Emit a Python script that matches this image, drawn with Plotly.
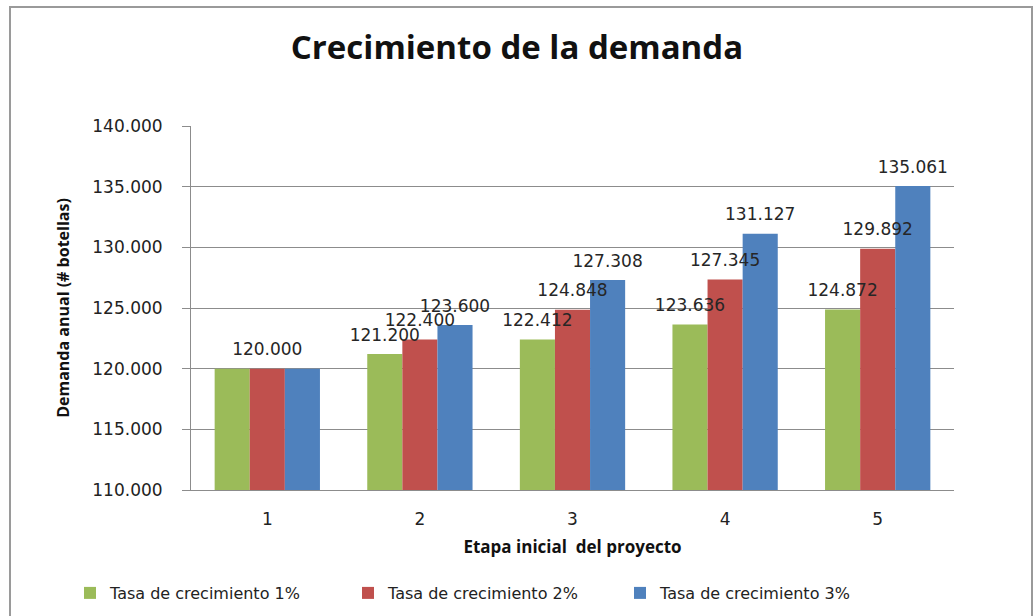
import plotly.graph_objects as go

# Datos
etapas = [1, 2, 3, 4, 5]
etiquetas_x = ["1", "2", "3", "4", "5"]
tasa_1 = [120000, 121200, 122412, 123636, 124872]
tasa_2 = [120000, 122400, 124848, 127345, 129892]
tasa_3 = [120000, 123600, 127308, 131127, 135061]
series = ["Tasa de crecimiento 1%", "Tasa de crecimiento 2%", "Tasa de crecimiento 3%"]
colores = ["#9BBB59", "#C0504D", "#4F81BD"]

W, H = 1034, 616
ML, MT = 191, 126
MR, MB = W - 954, H - 490
PW, PH = W - ML - MR, H - MT - MB

ANCHO = 0.23  # ancho de cada barra en unidades de categoria


def fmt(v):
    return f"{v:,.0f}".replace(",", ".")


def px_x(x):
    return (x - ML) / PW


def px_y(y):
    return (H - MB - y) / PH


fig = go.Figure()
valores = [tasa_1, tasa_2, tasa_3]
leyendas = ["legend", "legend2", "legend3"]
for i, (nombre, vals, color) in enumerate(zip(series, valores, colores)):
    fig.add_trace(go.Bar(
        x=etapas,
        y=vals,
        name=nombre,
        legend=leyendas[i],
        width=ANCHO,
        offset=(i - 1.5) * ANCHO,
        marker=dict(color=color, line=dict(width=0)),
    ))

# etiquetas encima de todas las barras
for i, vals in enumerate(valores):
    # en la etapa 1 las tres etiquetas coinciden: solo se ve la del centro
    textos = [fmt(v) if (i == 1 or v != tasa_2[j]) else "" for j, v in enumerate(vals)]
    fig.add_trace(go.Scatter(
        x=[e + (i - 1) * ANCHO for e in etapas],
        y=vals,
        mode="markers+text",
        marker=dict(size=13, opacity=0),
        text=textos,
        textposition="top center",
        textfont=dict(family="DejaVu Sans", size=17, color="#262626"),
        showlegend=False,
        hoverinfo="skip",
        cliponaxis=False,
    ))

grid = "#8C8C8C"
leg_font = dict(family="DejaVu Sans", size=16, color="#222222")


def leyenda(x_px):
    return dict(
        orientation="h", x=px_x(x_px), xanchor="left",
        y=px_y(593), yanchor="middle",
        font=leg_font, bgcolor="rgba(0,0,0,0)", itemwidth=30,
    )


fig.update_layout(
    width=W, height=H,
    margin=dict(l=ML, r=MR, t=MT, b=MB, autoexpand=False),
    paper_bgcolor="white",
    plot_bgcolor="white",
    separators=",.",
    showlegend=True,
    title=dict(
        text="<b>Crecimiento de la demanda</b>",
        x=517 / W, xref="container", xanchor="center",
        y=1 - 47 / H, yanchor="middle",
        font=dict(family="Open Sans", size=33, color="#111111"),
    ),
    xaxis=dict(
        range=[0.5, 5.5],
        tickvals=etapas,
        ticktext=etiquetas_x,
        showgrid=False,
        zeroline=False,
        showline=True, linecolor=grid, linewidth=1,
        ticks="",
        ticklabelstandoff=14,
        tickfont=dict(family="DejaVu Sans", size=17, color="#222222"),
        title=dict(text="<b>Etapa inicial  del proyecto</b>", standoff=12,
                   font=dict(family="Open Sans", size=17, color="#111111")),
    ),
    yaxis=dict(
        range=[110000, 140000],
        dtick=5000,
        tickformat=",.0f",
        showgrid=True, gridcolor=grid, gridwidth=1,
        showline=True, linecolor=grid, linewidth=1,
        ticks="outside", ticklen=8, tickcolor=grid,
        ticklabelstandoff=16,
        zeroline=False,
        tickfont=dict(family="DejaVu Sans", size=17, color="#222222"),
        title=dict(text="<b>Demanda anual (# botellas)</b>", standoff=18,
                   font=dict(family="Open Sans", size=16, color="#111111")),
    ),
    legend=leyenda(70),
    legend2=leyenda(348),
    legend3=leyenda(620),
    shapes=[dict(
        type="rect", xref="paper", yref="paper",
        x0=px_x(10), x1=px_x(1032),
        y0=px_y(660), y1=px_y(7),
        line=dict(color="#9A9A9A", width=2),
        fillcolor="rgba(0,0,0,0)",
        layer="below",
    )],
)

# sin margen en el body para que la figura ocupe toda la ventana
fig.write_html(
    "out.html",
    config={"displayModeBar": False},
    post_script="document.body.style.margin='0';document.body.style.overflow='hidden';",
)
